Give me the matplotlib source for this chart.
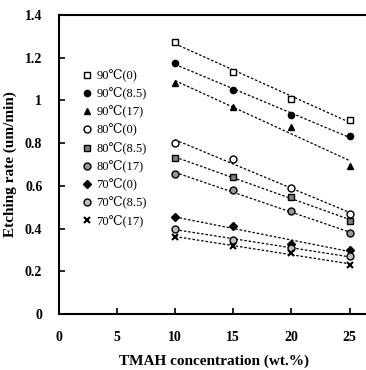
import numpy as np
import matplotlib
matplotlib.use("Agg")
import matplotlib.pyplot as plt

plt.rcParams['font.family'] = ['Liberation Serif', 'DejaVu Serif']

conc = [10, 15, 20, 25]
labels = ['90℃(0)', '90℃(8.5)', '90℃(17)', '80℃(0)', '80℃(8.5)', '80℃(17)',
          '70℃(0)', '70℃(8.5)', '70℃(17)']
r90_0 = [1.275, 1.135, 1.005, 0.91]
r90_85 = [1.175, 1.05, 0.93, 0.835]
r90_17 = [1.08, 0.97, 0.877, 0.695]
r80_0 = [0.80, 0.725, 0.59, 0.467]
r80_85 = [0.73, 0.64, 0.55, 0.435]
r80_17 = [0.655, 0.58, 0.48, 0.378]
r70_0 = [0.453, 0.41, 0.33, 0.30]
r70_85 = [0.40, 0.345, 0.31, 0.27]
r70_17 = [0.36, 0.32, 0.285, 0.23]
series = [r90_0, r90_85, r90_17, r80_0, r80_85, r80_17, r70_0, r70_85, r70_17]

styles = [
    dict(marker='s', mfc='white', mec='black', ms=5),
    dict(marker='o', mfc='black', mec='black', ms=4.5),
    dict(marker='^', mfc='black', mec='black', ms=5),
    dict(marker='o', mfc='white', mec='black', ms=5),
    dict(marker='s', mfc='0.5', mec='black', ms=5),
    dict(marker='o', mfc='0.6', mec='black', ms=5),
    dict(marker='D', mfc='black', mec='black', ms=4),
    dict(marker='o', mfc='0.75', mec='black', ms=5),
    dict(marker='x', mfc='black', mec='black', ms=5, mew=1.5),
]

fig = plt.figure(figsize=(3.66, 3.70), dpi=100)
ax = fig.add_axes([0.161, 0.1514, 0.845, 0.808])

xs = np.array(conc, dtype=float)
for lab, ys, st in zip(labels, series, styles):
    coef = np.polyfit(xs, ys, 1)
    ax.plot(xs, np.polyval(coef, xs), color='black', lw=0.9, ls=(0, (2, 1.5)))
    ax.plot(xs, ys, ls='none', color='black', label=lab, **st)

ax.set_xlim(0, 26.6)
ax.set_ylim(0, 1.4)
ax.set_xticks([0, 5, 10, 15, 20, 25])
ax.set_yticks([0, 0.2, 0.4, 0.6, 0.8, 1.0, 1.2, 1.4])
ax.set_yticklabels(['0', '0.2', '0.4', '0.6', '0.8', '1', '1.2', '1.4'])
ax.tick_params(direction='in', length=4, width=1.2, labelsize=10, pad=12)
for t in ax.get_xticklabels() + ax.get_yticklabels():
    t.set_fontweight('bold')
ax.spines['right'].set_visible(False)
for s in ['left', 'bottom', 'top']:
    ax.spines[s].set_linewidth(1.5)

ax.set_xlabel('TMAH concentration (wt.%)', fontsize=11, fontweight='bold', labelpad=8)
ax.set_ylabel('Etching rate (um/min)', fontsize=11, fontweight='bold', labelpad=6)

ax.legend(loc='upper left', bbox_to_anchor=(0.06, 0.835), frameon=False,
          fontsize=9, handlelength=0.8, handletextpad=0.3, labelspacing=0.45,
          borderaxespad=0)

fig.savefig('out.png', dpi=100)
